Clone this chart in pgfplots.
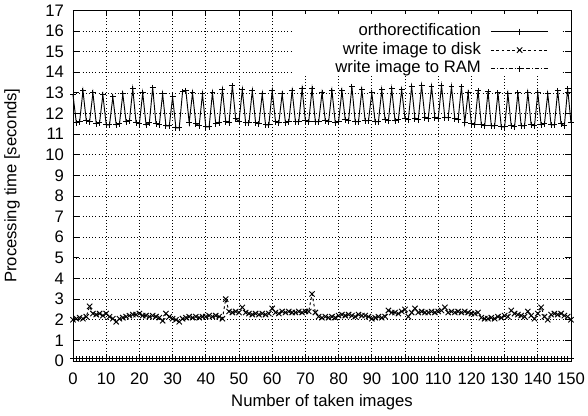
\documentclass[border=0pt]{standalone}
\usepackage{fontspec}
\setmainfont{Liberation Sans}
\usepackage{pgfplots}
\usepackage{pgfplotstable}
\pgfplotsset{compat=1.18}

\newcommand\chartfont{\fontsize{12.5}{15}\selectfont}

% x = image number, times in seconds
\pgfplotstableread{
x ortho disk ram
0 12.90 2.00 0.10
1 11.55 2.05 0.10
2 11.60 2.10 0.10
3 13.10 2.05 0.10
4 11.65 2.15 0.10
5 11.60 2.65 0.10
6 13.00 2.30 0.10
7 11.50 2.25 0.10
8 11.55 2.30 0.10
9 12.90 2.20 0.10
10 11.45 2.30 0.10
11 11.45 2.15 0.10
12 12.80 2.05 0.10
13 11.45 1.90 0.10
14 11.50 2.05 0.10
15 12.95 2.10 0.10
16 11.60 2.15 0.10
17 11.65 2.20 0.10
18 13.20 2.25 0.10
19 11.55 2.25 0.10
20 11.50 2.30 0.10
21 13.00 2.20 0.10
22 11.45 2.20 0.10
23 11.55 2.15 0.10
24 13.25 2.20 0.10
25 11.50 2.15 0.10
26 11.45 2.10 0.10
27 12.95 1.95 0.10
28 11.40 2.30 0.10
29 11.40 2.15 0.10
30 12.80 2.05 0.10
31 11.30 2.00 0.10
32 11.30 1.90 0.10
33 13.05 2.05 0.10
34 13.10 2.10 0.10
35 11.55 2.15 0.10
36 13.00 2.10 0.10
37 11.50 2.15 0.10
38 11.40 2.10 0.10
39 12.95 2.15 0.10
40 11.35 2.15 0.10
41 11.35 2.20 0.10
42 13.00 2.15 0.10
43 11.50 2.20 0.10
44 11.55 2.15 0.10
45 13.15 2.05 0.10
46 11.60 3.00 0.10
47 11.55 2.40 0.10
48 13.35 2.35 0.10
49 11.75 2.40 0.10
50 11.60 2.35 0.10
51 13.15 2.60 0.10
52 11.55 2.35 0.10
53 11.55 2.30 0.10
54 13.10 2.25 0.10
55 11.55 2.30 0.10
56 11.50 2.25 0.10
57 12.95 2.30 0.10
58 11.45 2.25 0.10
59 11.45 2.30 0.10
60 13.10 2.55 0.10
61 11.60 2.35 0.10
62 11.55 2.30 0.10
63 12.95 2.40 0.10
64 11.55 2.35 0.10
65 11.60 2.40 0.10
66 13.10 2.35 0.10
67 11.60 2.35 0.10
68 11.60 2.40 0.10
69 13.20 2.35 0.10
70 11.65 2.40 0.10
71 11.60 2.40 0.10
72 13.20 3.25 0.10
73 11.60 2.35 0.10
74 11.60 2.15 0.10
75 13.00 2.10 0.10
76 11.65 2.15 0.10
77 11.60 2.10 0.10
78 13.10 2.15 0.10
79 11.55 2.10 0.10
80 11.60 2.20 0.10
81 13.10 2.25 0.10
82 11.70 2.20 0.10
83 11.65 2.25 0.10
84 13.30 2.20 0.10
85 11.60 2.15 0.10
86 11.60 2.25 0.10
87 13.15 2.20 0.10
88 11.65 2.20 0.10
89 11.65 2.15 0.10
90 13.00 2.05 0.10
91 11.60 2.10 0.10
92 11.60 2.15 0.10
93 13.15 2.10 0.10
94 11.70 2.15 0.10
95 11.65 2.45 0.10
96 13.20 2.35 0.10
97 11.65 2.35 0.10
98 11.70 2.30 0.10
99 13.15 2.40 0.10
100 11.75 2.50 0.10
101 11.70 2.15 0.10
102 13.30 2.35 0.10
103 11.75 2.55 0.10
104 11.70 2.35 0.10
105 13.35 2.40 0.10
106 11.80 2.35 0.10
107 11.75 2.35 0.10
108 13.30 2.40 0.10
109 11.80 2.35 0.10
110 11.75 2.40 0.10
111 13.35 2.45 0.10
112 11.80 2.60 0.10
113 11.80 2.35 0.10
114 13.30 2.40 0.10
115 11.75 2.35 0.10
116 11.70 2.40 0.10
117 13.30 2.35 0.10
118 11.55 2.40 0.10
119 13.00 2.35 0.10
120 11.50 2.30 0.10
121 11.45 2.30 0.10
122 13.10 2.35 0.10
123 11.45 2.10 0.10
124 11.40 2.05 0.10
125 13.05 2.05 0.10
126 11.40 2.10 0.10
127 11.40 2.05 0.10
128 13.00 2.15 0.10
129 11.35 2.10 0.10
130 11.35 2.20 0.10
131 12.95 2.15 0.10
132 11.40 2.45 0.10
133 11.35 2.30 0.10
134 13.00 2.25 0.10
135 11.40 2.20 0.10
136 11.40 2.15 0.10
137 13.00 2.40 0.10
138 11.45 2.20 0.10
139 11.40 2.05 0.10
140 13.00 2.30 0.10
141 11.45 2.60 0.10
142 11.50 2.15 0.10
143 12.95 2.00 0.10
144 11.45 2.25 0.10
145 11.45 2.30 0.10
146 13.10 2.25 0.10
147 11.50 2.30 0.10
148 11.40 2.20 0.10
149 13.20 2.15 0.10
150 11.55 2.00 0.10
}\timings

\begin{document}
\begin{tikzpicture}
\begin{axis}[
    at={(0,0)}, anchor=south west,
    scale only axis,
    width=373.5pt, height=263pt,
    xmin=0, xmax=150, ymin=0, ymax=17,
    xtick={0,10,...,150},
    ytick={0,1,...,17},
    tick align=inside,
    major tick length=4.5pt,
    grid=major,
    major grid style={black, dotted, line width=0.5pt},
    axis line style={line width=0.6pt},
    tick style={black, line width=0.6pt},
    /pgf/number format/assume math mode=true,
    tick label style={font=\chartfont},
    xticklabel style={yshift=-5.5pt},
    yticklabel style={xshift=-3.3pt},
    label style={font=\chartfont},
    xlabel={Number of taken images},
    ylabel={Processing time [seconds]},
    xlabel style={at={(axis description cs:0.5,-0.118)}, anchor=center},
    ylabel style={at={(axis description cs:-0.1225,0.5)}, anchor=center},
    clip=false,
    legend cell align=right,
    legend plot pos=right,
    legend image code/.code={\draw[mark repeat=2,mark phase=2] plot coordinates {(0pt,0pt) (21.5pt,0pt) (43pt,0pt)};},
    legend style={font=\chartfont, draw=none, fill=none, inner sep=0pt,
        at={(rel axis cs:1,1)}, anchor=north east, xshift=-16.5pt, yshift=-8.8pt,
        row sep=0pt, column sep=6pt,
        nodes={text height=9pt, text depth=2.5pt, inner sep=1.2pt}},
]
\fill[white] (axis cs:66.2,13.9) rectangle (axis cs:147.4,16.8);
\addplot[black, line width=0.7pt, mark=+, mark size=2.2pt] table[x=x, y=ortho] {\timings};
\addlegendentry{orthorectification}
\addplot[black, line width=0.7pt, dash pattern=on 2pt off 2pt, mark=x, mark size=2.8pt, mark options={solid}] table[x=x, y=disk] {\timings};
\addlegendentry{write image to disk}
\addplot[black, line width=0.7pt, dash pattern=on 3pt off 1.5pt on 0.6pt off 1.5pt, mark=+, mark size=2.2pt, mark options={solid}] table[x=x, y=ram] {\timings};
\addlegendentry{write image to RAM}
\end{axis}
\pgfresetboundingbox
\path (-54.75pt,-41.25pt) rectangle (386.25pt,270.75pt);
\end{tikzpicture}
\end{document}
